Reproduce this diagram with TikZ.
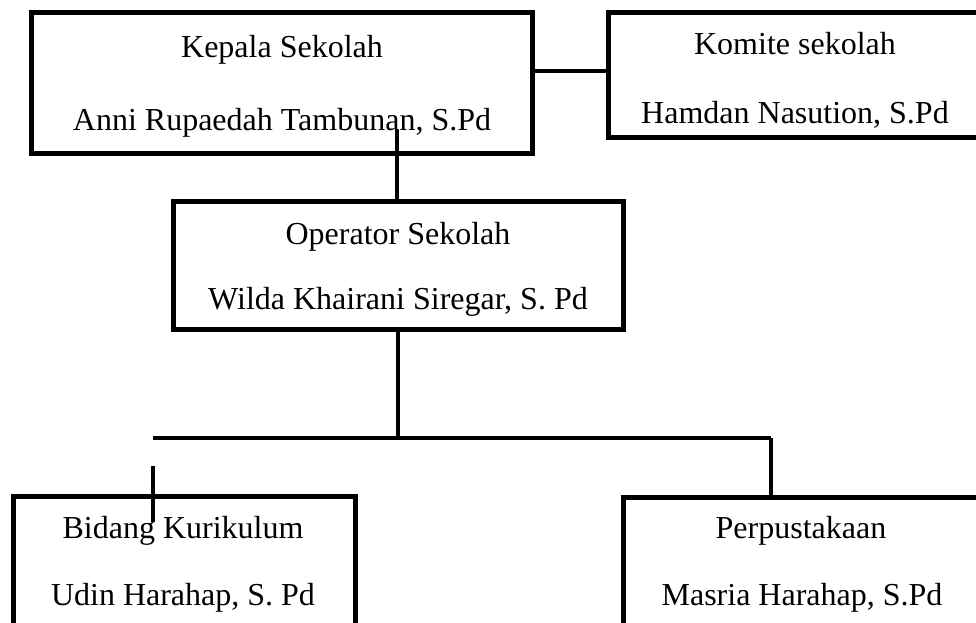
\documentclass[tikz,border=0pt]{standalone}
\usepackage{fontspec}
\setmainfont{Liberation Serif}
\begin{document}
\begin{tikzpicture}[x=1pt,y=-1pt,
  box/.style={draw=black,line width=5pt,rectangle,inner sep=0pt,outer sep=0pt},
  conn/.style={draw=black,line width=3.5pt},
  txt/.style={anchor=base,inner sep=0pt,font=\fontsize{32}{38}\selectfont}]
\useasboundingbox (0,0) rectangle (976,623);
\clip (0,0) rectangle (976,623);
% boxes
\node[box,minimum width=501pt,minimum height=140pt] (kepala) at (281.5,83) {};
\node[box,minimum width=377pt,minimum height=124pt] (komite) at (796.5,75) {};
\node[box,minimum width=450pt,minimum height=128pt] (operator) at (398,265) {};
\node[box,minimum width=342pt,minimum height=129pt] (bidang) at (184,560.5) {};
\node[box,minimum width=362pt,minimum height=128pt] (perpus) at (804,561) {};
% texts
\node[txt] (t1) at (282,58) {Kepala Sekolah};
\node[txt] (t2) at (282,130) {Anni Rupaedah Tambunan, S.Pd};
\node[txt] (t3) at (795,55) {Komite sekolah};
\node[txt] (t4) at (795,124) {Hamdan Nasution, S.Pd};
\node[txt] (t5) at (398,244) {Operator Sekolah};
\node[txt] (t6) at (398,309) {Wilda Khairani Siregar, S. Pd};
\node[txt] (t7) at (183,538) {Bidang Kurikulum};
\node[txt] (t8) at (183,605) {Udin Harahap, S. Pd};
\node[txt] (t9) at (801,538) {Perpustakaan};
\node[txt] (t10) at (802,605) {Masria Harahap, S.Pd};
% helper coordinates
\coordinate (ky) at (0,71);
\coordinate (kstart) at (397,130);
\coordinate (junc) at (398,438);
\coordinate (hleft) at (153,438);
\coordinate (hright) at (771,438);
\coordinate (stubtop) at (153,466);
\coordinate (stubbot) at (153,522);
% connectors
\draw[conn] (kepala.east |- ky) -- (komite.west |- ky);
\draw[conn] (kstart) -- (kstart |- operator.north);
\draw[conn] (operator.south) -- (junc);
\draw[conn] (hleft) -- (hright);
\draw[conn] (hright) -- (hright |- perpus.north);
\draw[conn] (stubtop) -- (stubbot);
\end{tikzpicture}
\end{document}
